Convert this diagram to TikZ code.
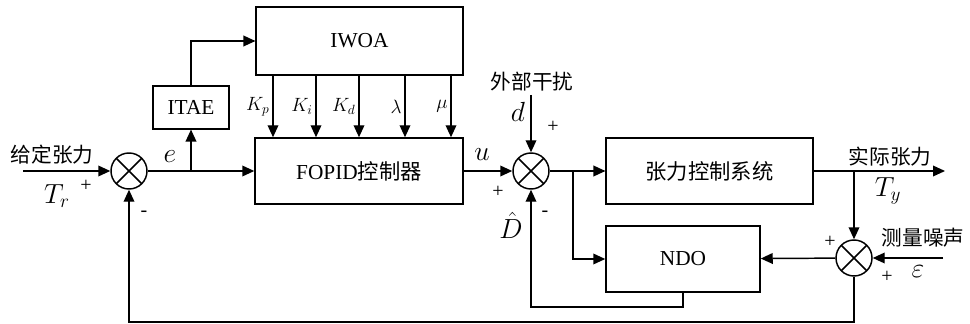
\documentclass[tikz,border=0pt]{standalone}
\usepackage{fontspec}
\setmainfont{Liberation Serif}
\newfontfamily\cjk{Noto Sans CJK SC}
\usetikzlibrary{arrows.meta}

\tikzset{
  block/.style={draw,line width=1.1pt,inner sep=0pt,font=\fontsize{16}{19}\selectfont},
  sumnode/.style={draw,circle,line width=1.1pt,minimum size=27pt,inner sep=0pt,
    path picture={\draw[line width=1.1pt]
      (path picture bounding box.north west)--(path picture bounding box.south east)
      (path picture bounding box.north east)--(path picture bounding box.south west);}},
  sign/.style={font=\fontsize{15}{17}\selectfont,inner sep=1pt},
  mathlbl/.style={font=\fontsize{20.74}{24}\selectfont,inner sep=1pt},
  gainlbl/.style={font=\fontsize{14.4}{16}\selectfont},
  cjklabel/.style={font=\cjk\fontsize{15.5}{18}\selectfont},
}

\begin{document}
\begin{tikzpicture}[x=.75pt,y=-.75pt,>={Triangle[length=9pt,width=8pt]},line width=1.1pt]
\useasboundingbox (0,0) rectangle (970,324);
% blocks
\node[block,minimum width=155pt,minimum height=51pt] (iwoa) at (359.5,41) {IWOA};
\node[block,minimum width=156pt,minimum height=49.5pt] (fopid) at (359,171) {FOPID{\cjk 控制器}};
\node[block,minimum width=57pt,minimum height=32pt] (itae) at (191,107.5) {ITAE};
\node[block,minimum width=155pt,minimum height=49.5pt] (plant) at (709.5,171) {\cjk 张力控制系统};
\node[block,minimum width=115.5pt,minimum height=49.5pt] (ndo) at (683,259) {NDO};
% summing points
\node[sumnode] (s1) at (129,171) {};
\node[sumnode] (s2) at (531,171) {};
\node[sumnode] (s3) at (854,258) {};
% free ends and branch points
\coordinate (in) at (23,171);
\coordinate (dist) at (531,95);
\coordinate (out) at (945,171);
\coordinate (noise) at (943,258);
\coordinate (eb) at (191,171);
\coordinate (ub) at (573,171);
\coordinate (yb) at (854,171);
\coordinate (db) at (683,307);
\coordinate (fb) at (854,322);

% forward path
\draw[->] (in) -- (s1);
\draw[->] (s1) -- (fopid);
\draw[->] (eb) -- (itae);
\draw[->] (itae.north) |- (iwoa.west);
\foreach \x/\lab in {273/K_p,316/K_i,359/K_d,405/\lambda,451/\mu}{
  \coordinate (kx) at (\x,0);
  \draw[->] (iwoa.south -| kx) -- (fopid.north -| kx) node[midway,left,gainlbl,inner sep=2pt]{$\lab$};
}
\draw[->] (fopid) -- (s2);
\draw[->] (dist) -- (s2);
\draw[->] (s2) -- (plant);
\draw[->] (ub) |- (ndo.west);
\draw[->] (plant) -- (out);
% feedback
\draw[->] (yb) -- (s3);
\draw[->] (noise) -- (s3);
\draw[->] (s3) -- (ndo);
\draw[->] (ndo.south) -- (db) -| (s2.south);
\draw[->] (s3.south) -- (fb) -| (s1.south);

% labels
\node[cjklabel] (lin) at (52,155) {给定张力};
\node[mathlbl] (ltr) at (57,196) {$T_r$};
\node[sign] (p1) at (86,186) {+};
\node[sign] (m1) at (144,214) {-};
\node[mathlbl] (le) at (170,157) {$e$};
\node[mathlbl] (lu) at (482,155) {$u$};
\node[cjklabel] (ldist) at (532,82) {外部干扰};
\node[mathlbl] (ld) at (518,112) {$d$};
\node[sign] (p2) at (553,127) {+};
\node[sign] (p3) at (498,192) {+};
\node[mathlbl] (lD) at (511,225) {$\hat{D}$};
\node[sign] (m2) at (545,214) {-};
\node[cjklabel] (lout) at (890,157) {实际张力};
\node[mathlbl] (lty) at (888,191) {$T_y$};
\node[sign] (p4) at (830,242) {+};
\node[cjklabel] (lnoise) at (923,238) {测量噪声};
\node[mathlbl] (leps) at (918,272) {$\varepsilon$};
\node[sign] (p5) at (887,277) {+};
\end{tikzpicture}
\end{document}
